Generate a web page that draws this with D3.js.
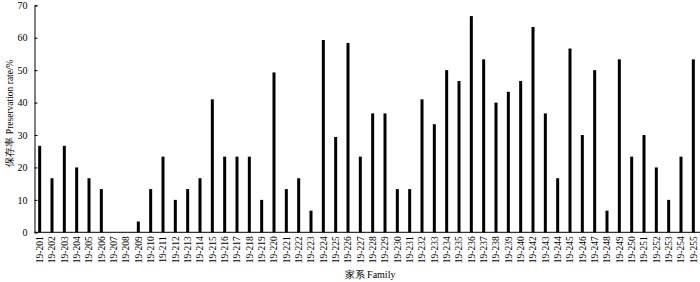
<!DOCTYPE html>
<html>
<head>
<meta charset="utf-8">
<script src="https://cdn.jsdelivr.net/npm/d3@7"></script>
<style>
  html, body { margin: 0; padding: 0; background: #fff; }
  svg { display: block; }
  text { font-family: "Liberation Serif", "Times New Roman", serif; fill: #000; }
</style>
</head>
<body>
<svg id="chart" width="700" height="282"></svg>
<script>
const families = [
  "19-201","19-202","19-203","19-204","19-205","19-206","19-207","19-208","19-209","19-210",
  "19-211","19-212","19-213","19-214","19-215","19-216","19-217","19-218","19-219","19-220",
  "19-221","19-222","19-223","19-224","19-225","19-226","19-227","19-228","19-229","19-230",
  "19-231","19-232","19-233","19-234","19-235","19-236","19-237","19-238","19-239","19-240",
  "19-242","19-243","19-244","19-245","19-246","19-247","19-248","19-249","19-250","19-251",
  "19-252","19-253","19-254","19-255"
];
const preservationRate = [
  26.67,16.67,26.67,20.0,16.67,13.33,0,0,3.33,13.33,
  23.33,10.0,13.33,16.67,41.0,23.33,23.33,23.33,10.0,49.3,
  13.33,16.67,6.67,59.3,29.4,58.4,23.33,36.67,36.67,13.33,
  13.33,41.0,33.33,50.0,46.67,66.67,53.33,40.0,43.33,46.67,
  63.33,36.67,16.67,56.67,30.0,50.0,6.67,53.33,23.33,30.0,
  20.0,10.0,23.33,53.33
];
const yTicks = [0,10,20,30,40,50,60,70];

const svg = d3.select("#chart");
const axisX = 34.5, y0 = 232.3, yTop = 5.3;

const x = d3.scaleBand().domain(families).range([33.5, 699.5]).padding(0);
const y = d3.scaleLinear().domain([0, 70]).range([y0, yTop]);

// bars
svg.append("g").selectAll("rect").data(families).join("rect")
  .attr("x", d => x(d) + x.bandwidth()/2 - 1.5)
  .attr("width", 3)
  .attr("y", (d,i) => y(preservationRate[i]))
  .attr("height", (d,i) => y0 - y(preservationRate[i]))
  .attr("fill", "#000");

// y axis
const yAxis = svg.append("g").attr("transform", `translate(${axisX},0)`)
  .call(d3.axisLeft(y).tickValues(yTicks).tickSize(-3).tickPadding(7));
yAxis.select(".domain").attr("stroke", "#000").attr("stroke-width", 1);
yAxis.selectAll(".tick line").attr("stroke", "#000");
yAxis.selectAll(".tick text").attr("font-size", 10).attr("font-family", "Liberation Serif, serif").attr("fill", "#222");

// x axis
const xAxis = svg.append("g").attr("transform", `translate(0,${y0})`)
  .call(d3.axisBottom(x).tickSize(0).tickPadding(0));
xAxis.select(".domain").attr("d", `M${axisX},0H700`).attr("stroke", "#000").attr("stroke-width", 1);
xAxis.selectAll(".tick text")
  .attr("font-size", 9.5)
  .attr("font-family", "Liberation Serif, serif")
  .attr("fill", "#222")
  .attr("transform", "rotate(-90)")
  .attr("text-anchor", "end")
  .attr("x", -4)
  .attr("y", 0)
  .attr("dy", "0.35em");

// axis titles
svg.append("text")
  .attr("transform", `translate(13,113) rotate(-90)`)
  .attr("text-anchor", "middle")
  .attr("font-size", 9.5)
  .attr("fill", "#333")
  .text("保存率  Preservation rate/%");

svg.append("text")
  .attr("x", 370).attr("y", 278)
  .attr("text-anchor", "middle")
  .attr("font-size", 10)
  .attr("fill", "#333")
  .text("家系  Family");
</script>
</body>
</html>
